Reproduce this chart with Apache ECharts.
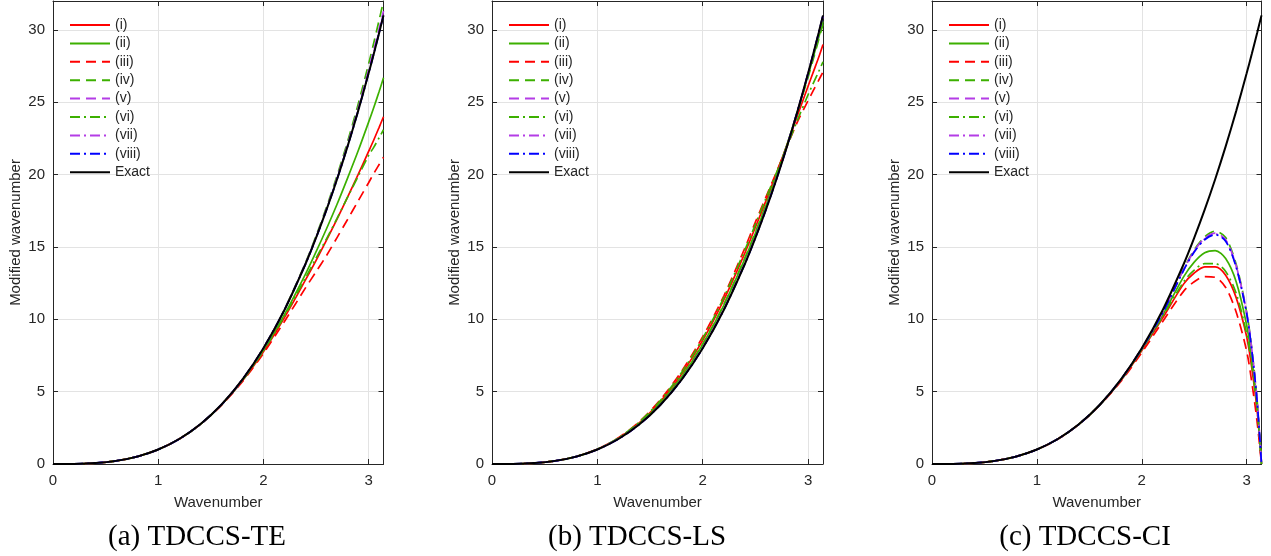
<!DOCTYPE html>
<html><head><meta charset="utf-8">
<script src="https://cdn.jsdelivr.net/npm/echarts@6/dist/echarts.min.js"></script>
<style>html,body{margin:0;padding:0;background:#fff}#c{width:1271px;height:556px}</style>
</head><body><div id="c"></div>
<script>
// Wavenumber grid
const X = [0,0.2,0.4,0.6,0.8,1.0,1.2,1.4,1.6,1.8,2.0,2.2,2.4,2.5,2.6,2.7,2.8,2.9,3.0,3.05,3.1,3.1416];
const EXACT = [0,0.008,0.064,0.216,0.512,1.0,1.728,2.744,4.096,5.832,8.0,10.648,13.824,15.625,17.576,19.683,21.952,24.389,27.0,28.373,29.791,31.006];

// (a) TDCCS-TE
const teI    = [0,0.008,0.064,0.216,0.512,1.0,1.726,2.739,4.076,5.745,7.76,10.12,12.72,14.06,15.47,16.93,18.44,20.0,21.6,22.41,23.27,24.0];
const teII   = [0,0.008,0.064,0.216,0.512,1.0,1.728,2.741,4.088,5.791,7.88,10.33,13.13,14.66,16.26,17.95,19.76,21.63,23.63,24.66,25.74,26.7];
const teIII  = [0,0.008,0.064,0.216,0.512,1.0,1.725,2.730,4.055,5.686,7.64,9.85,12.17,13.28,14.41,15.65,16.90,18.17,19.44,20.09,20.70,21.2];
const teIV   = [0,0.008,0.064,0.216,0.512,1.0,1.728,2.744,4.096,5.832,8.0,10.68,13.91,15.75,17.75,19.92,22.28,24.85,27.65,29.14,30.68,32.0];
const teV    = [0,0.008,0.064,0.216,0.512,1.0,1.728,2.744,4.096,5.832,8.0,10.66,13.85,15.66,17.65,19.78,22.08,24.55,27.24,28.64,30.08,31.3];
const teVI   = [0,0.008,0.064,0.216,0.512,1.0,1.728,2.741,4.084,5.774,7.82,10.22,12.86,14.22,15.56,16.97,18.44,19.88,21.33,21.90,22.55,23.1];
const teVII  = [0,0.008,0.064,0.216,0.512,1.0,1.728,2.744,4.096,5.832,8.0,10.65,13.83,15.63,17.59,19.70,21.98,24.43,27.05,28.44,29.87,31.1];
const teVIII = [0,0.008,0.064,0.216,0.512,1.0,1.728,2.744,4.096,5.832,8.0,10.648,13.82,15.62,17.57,19.68,21.95,24.38,27.0,28.37,29.79,31.0];

// (b) TDCCS-LS
const lsI    = [0,0.008,0.064,0.217,0.516,1.02,1.783,2.867,4.334,6.211,8.54,11.34,14.58,16.36,18.19,20.08,22.06,24.10,26.11,27.10,28.09,29.0];
const lsII   = [0,0.008,0.064,0.216,0.514,1.008,1.754,2.804,4.211,6.019,8.26,10.97,14.17,15.94,17.84,19.88,22.06,24.39,26.87,28.15,29.46,30.6];
const lsIII  = [0,0.008,0.064,0.217,0.520,1.03,1.814,2.936,4.465,6.415,8.80,11.61,14.93,16.72,18.45,20.18,21.95,23.66,25.11,25.82,26.51,27.1];
const lsIV   = [0,0.008,0.064,0.217,0.515,1.01,1.759,2.813,4.227,6.048,8.30,11.02,14.24,16.02,17.89,19.92,22.06,24.34,26.73,28.00,29.31,30.4];
const lsV    = [0,0.008,0.064,0.216,0.513,1.004,1.736,2.758,4.12,5.87,8.05,10.71,13.89,15.69,17.64,19.74,22.0,24.42,26.99,28.34,29.74,30.95];
const lsVI   = [0,0.008,0.064,0.216,0.518,1.025,1.797,2.909,4.403,6.328,8.68,11.50,14.79,16.56,18.37,20.12,21.95,23.78,25.52,26.33,27.11,27.8];
const lsVII  = [0,0.008,0.064,0.216,0.512,1.002,1.733,2.752,4.108,5.85,8.02,10.68,13.86,15.66,17.61,19.71,21.97,24.39,26.99,28.36,29.77,30.98];
const lsVIII = [0,0.008,0.064,0.216,0.512,1.0,1.729,2.746,4.099,5.836,8.005,10.65,13.83,15.63,17.58,19.68,21.95,24.39,27.0,28.37,29.79,31.0];

// (c) TDCCS-CI
const ciI    = [0,0.008,0.064,0.216,0.512,1.0,1.727,2.740,4.08,5.76,7.85,10.1,12.45,13.2,13.62,13.63,13.05,11.5,8.8,6.6,3.7,0];
const ciII   = [0,0.008,0.064,0.216,0.512,1.0,1.728,2.742,4.09,5.80,7.93,10.3,12.95,13.95,14.6,14.75,14.2,12.6,9.6,7.2,4.0,0];
const ciIII  = [0,0.008,0.064,0.216,0.512,1.0,1.725,2.732,4.06,5.70,7.70,9.85,11.95,12.6,12.95,12.9,12.2,10.5,7.8,5.6,2.9,0];
const ciIV   = [0,0.008,0.064,0.216,0.512,1.0,1.728,2.744,4.095,5.83,7.98,10.5,13.5,14.8,15.7,16.1,15.65,13.8,10.5,7.9,4.4,0];
const ciV    = [0,0.008,0.064,0.216,0.512,1.0,1.728,2.744,4.095,5.83,7.98,10.48,13.45,14.72,15.6,15.95,15.5,13.7,10.45,7.85,4.35,0];
const ciVI   = [0,0.008,0.064,0.216,0.512,1.0,1.728,2.742,4.085,5.78,7.9,10.2,12.6,13.4,13.85,13.85,13.3,11.8,9.0,6.8,3.8,0];
const ciVII  = [0,0.008,0.064,0.216,0.512,1.0,1.728,2.744,4.095,5.83,7.97,10.46,13.42,14.68,15.55,15.9,15.45,13.65,10.42,7.82,4.32,0];
const ciVIII = [0,0.008,0.064,0.216,0.512,1.0,1.728,2.744,4.095,5.83,7.97,10.45,13.4,14.65,15.5,15.85,15.4,13.6,10.4,7.8,4.3,0];

const NAMES = ['(i)','(ii)','(iii)','(iv)','(v)','(vi)','(vii)','(viii)','Exact'];
const CAPTIONS = ['(a) TDCCS-TE','(b) TDCCS-LS','(c) TDCCS-CI'];
const X_NAME = 'Wavenumber';
const Y_NAME = 'Modified wavenumber';

const PANEL_DATA = [
  [teI,teII,teIII,teIV,teV,teVI,teVII,teVIII,EXACT],
  [lsI,lsII,lsIII,lsIV,lsV,lsVI,lsVII,lsVIII,EXACT],
  [ciI,ciII,ciIII,ciIV,ciV,ciVI,ciVII,ciVIII,EXACT]
];

// ---- styling / layout ----
const RED='#ff0000', GREEN='#3cb000', PURPLE='#b43ce6', BLUE='#0000ff', BLACK='#000000';
const DASH=[10,6], DASHDOT=[10,4,2,4];
const STYLES = [
  {c:RED,t:'solid'},{c:GREEN,t:'solid'},{c:RED,t:DASH},{c:GREEN,t:DASH},
  {c:PURPLE,t:DASH},{c:GREEN,t:DASHDOT},{c:PURPLE,t:DASHDOT},{c:BLUE,t:DASHDOT},{c:BLACK,t:'solid'}
];
const LAYOUT = [
  {left:53, width:330.5, capX:197, legLeft:64},
  {left:492, width:331, capX:637, legLeft:503},
  {left:932, width:329.5, capX:1085, legLeft:943}
];
const TOP=1, HEIGHT=463;
const AX='#262626', GRIDC='#e3e3e3', FONT='"Liberation Sans", Arial, sans-serif';

const grid=[], xAxis=[], yAxis=[], series=[], legend=[], graphic=[];
LAYOUT.forEach((L,p)=>{
  grid.push({left:L.left, top:TOP, width:L.width, height:HEIGHT});
  const common = {min:0, axisLine:{show:true,onZero:false,lineStyle:{color:AX,width:1}},
    axisTick:{show:true,inside:true,length:5,lineStyle:{color:AX}}};
  xAxis.push(Object.assign({}, common, {type:'value', gridIndex:p, max:Math.PI, interval:1, position:'bottom',
    name:X_NAME, nameLocation:'middle', nameGap:31, nameTextStyle:{color:AX,fontSize:15,fontFamily:FONT},
    axisLabel:{color:AX,fontSize:15,fontFamily:FONT,margin:9,formatter:v=>Number.isInteger(v)?String(v):''},
    splitLine:{show:true,lineStyle:{color:GRIDC,width:1}}}));
  xAxis.push(Object.assign({}, common, {type:'value', gridIndex:p, max:Math.PI, interval:1, position:'top',
    axisLabel:{show:false}, splitLine:{show:false}}));
  yAxis.push(Object.assign({}, common, {type:'value', gridIndex:p, max:32, interval:5, position:'left',
    name:Y_NAME, nameLocation:'middle', nameGap:30, nameRotate:90, nameTextStyle:{color:AX,fontSize:15,fontFamily:FONT},
    axisLabel:{color:AX,fontSize:15,fontFamily:FONT,margin:8,formatter:v=>(v%5===0)?String(v):''},
    splitLine:{show:true,lineStyle:{color:GRIDC,width:1}}}));
  yAxis.push(Object.assign({}, common, {type:'value', gridIndex:p, max:32, interval:5, position:'right',
    axisLabel:{show:false}, splitLine:{show:false}}));
  PANEL_DATA[p].forEach((arr,k)=>{
    series.push({type:'line', name:NAMES[k], xAxisIndex:2*p, yAxisIndex:2*p,
      data:X.map((x,i)=>[x,arr[i]]), symbol:'none', showSymbol:false, smooth:0.3,
      clip:true, z: k===8?5:3,
      lineStyle:{color:STYLES[k].c, type:STYLES[k].t, width:k===8?2:1.7},
      itemStyle:{color:STYLES[k].c}});
  });
  legend.push({data:NAMES, left:L.legLeft, top:13, orient:'vertical', itemWidth:40, itemHeight:12,
    itemGap:4.4, selectedMode:false, itemStyle:{opacity:0},
    lineStyle:{width:2},
    textStyle:{color:AX,fontSize:14,fontFamily:FONT}, backgroundColor:'transparent'});
  graphic.push({type:'text', x:L.capX, y:537,
    style:{text:CAPTIONS[p], fill:'#000', font:'29px "Liberation Serif", "Times New Roman", serif',
      textAlign:'center', textVerticalAlign:'middle'}});
});

const chart = echarts.init(document.getElementById('c'), null, {renderer:'canvas'});
chart.setOption({animation:false, backgroundColor:'#fff', grid, xAxis, yAxis, series, legend, graphic});
</script></body></html>
